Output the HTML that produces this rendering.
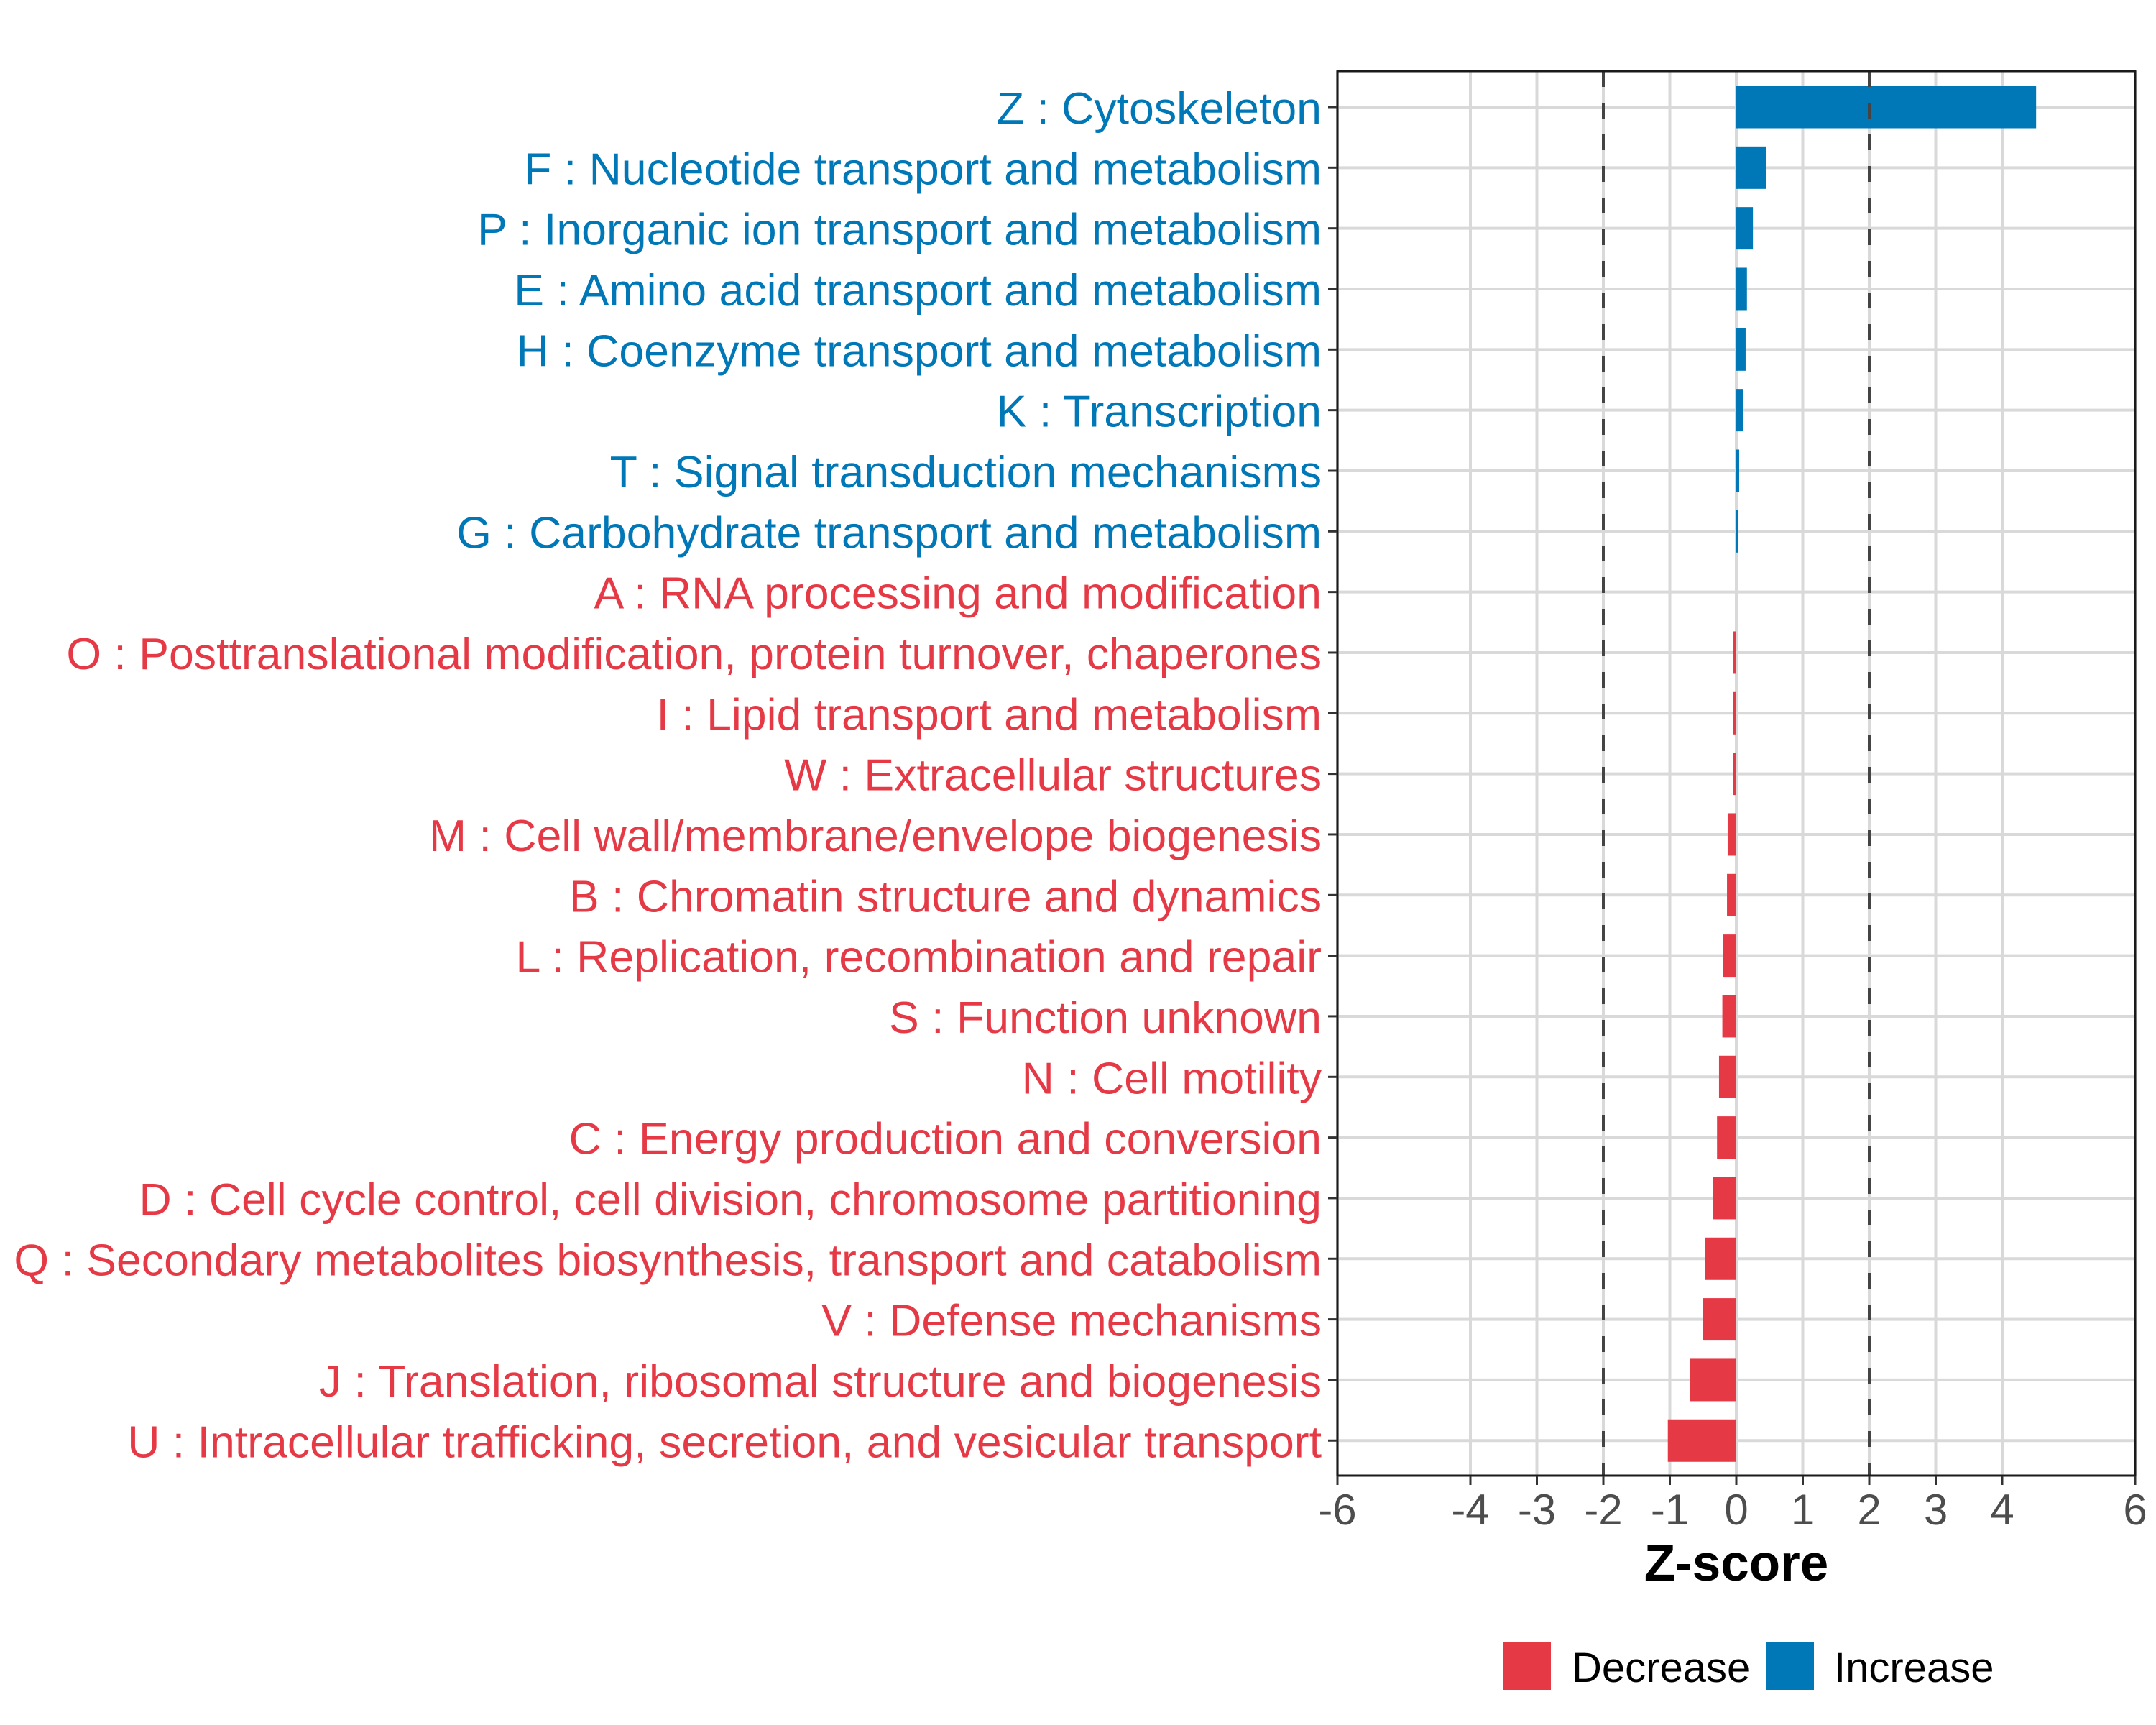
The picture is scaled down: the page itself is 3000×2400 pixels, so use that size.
<!DOCTYPE html>
<html><head><meta charset="utf-8"><style>
html,body{margin:0;padding:0;background:#fff}
svg{display:block;font-family:"Liberation Sans",Arial,sans-serif}
</style></head><body>
<svg id="chart" width="3000" height="2400" viewBox="0 0 3000 2400">
<g id="grid"></g>
<g id="bars"></g>
<g id="ref"></g>
<rect x="1861" y="99" width="1110" height="1954" fill="none" stroke="#1a1a1a" stroke-width="3"/>
<g id="ylab"></g>
<g id="xlab"></g>
<text x="2416" y="2199" text-anchor="middle" font-size="71" font-weight="bold" fill="#000">Z-score</text>
<g>
<rect x="2092" y="2285" width="66" height="66" fill="#E63946"/>
<text x="2187" y="2340" font-size="58" fill="#000">Decrease</text>
<rect x="2458" y="2285" width="66" height="66" fill="#0077B6"/>
<text x="2552" y="2340" font-size="58" fill="#000">Increase</text>
</g>
</svg>
<script>
const categories = ["Z : Cytoskeleton","F : Nucleotide transport and metabolism","P : Inorganic ion transport and metabolism","E : Amino acid transport and metabolism","H : Coenzyme transport and metabolism","K : Transcription","T : Signal transduction mechanisms","G : Carbohydrate transport and metabolism","A : RNA processing and modification","O : Posttranslational modification, protein turnover, chaperones","I : Lipid transport and metabolism","W : Extracellular structures","M : Cell wall/membrane/envelope biogenesis","B : Chromatin structure and dynamics","L : Replication, recombination and repair","S : Function unknown","N : Cell motility","C : Energy production and conversion","D : Cell cycle control, cell division, chromosome partitioning","Q : Secondary metabolites biosynthesis, transport and catabolism","V : Defense mechanisms","J : Translation, ribosomal structure and biogenesis","U : Intracellular trafficking, secretion, and vesicular transport"];
const zscores = [4.51,0.45,0.25,0.16,0.14,0.108,0.043,0.032,-0.01,-0.043,-0.054,-0.054,-0.13,-0.14,-0.2,-0.21,-0.26,-0.29,-0.35,-0.47,-0.5,-0.7,-1.03];
const xTicks = [-6,-4,-3,-2,-1,0,1,2,3,4,6];
const refLines = [-2,2];
const NS="http://www.w3.org/2000/svg";
const x0=1861,x1=2971,xmin=-6,xmax=6;
const X=v=>x0+(v-xmin)/(xmax-xmin)*(x1-x0);
const Y=i=>149+i*84.33;
const bandH=59;
function mk(tag,attrs,parent){const e=document.createElementNS(NS,tag);for(const k in attrs)e.setAttribute(k,attrs[k]);parent.appendChild(e);return e;}
const grid=document.getElementById('grid'),bars=document.getElementById('bars'),ref=document.getElementById('ref'),ylab=document.getElementById('ylab'),xlab=document.getElementById('xlab');
xTicks.forEach(t=>{
  const l=mk('line',{x1:X(t),x2:X(t),y1:99,y2:2053,stroke:'#d9d9d9','stroke-width':4},grid);
  
  
  const tk=mk('line',{x1:X(t),x2:X(t),y1:2053,y2:2066,stroke:'#333','stroke-width':3},xlab);
  
  
  const tx=mk('text',{x:X(t),y:2121,'text-anchor':'middle','font-size':60,fill:'#4d4d4d'},xlab);
  tx.textContent=String(t);
  
  
});
categories.forEach((c,i)=>{
  const y=Y(i);
  const g=mk('line',{x1:x0,x2:x1,y1:y,y2:y,stroke:'#d9d9d9','stroke-width':4},grid);
  
  
  const v=zscores[i];
  const col=v>=0?'#0077B6':'#E63946';
  const r=mk('rect',{x:Math.min(X(0),X(v)),y:y-bandH/2,width:Math.max(Math.abs(X(v)-X(0)),0.8),height:bandH,fill:col},bars);
  
  
  const tk=mk('line',{x1:1848,x2:1861,y1:y,y2:y,stroke:'#333','stroke-width':3},ylab);
  
  
  const t=mk('text',{x:1839,y:y+23,'text-anchor':'end','font-size':62.6,fill:col},ylab);
  t.textContent=c;
  
  
});
refLines.forEach(v=>{
  const l=mk('line',{x1:X(v),x2:X(v),y1:99,y2:2053,stroke:'#444','stroke-width':4,'stroke-dasharray':'22 22'},ref);
  
  
});
</script>
</body></html>
